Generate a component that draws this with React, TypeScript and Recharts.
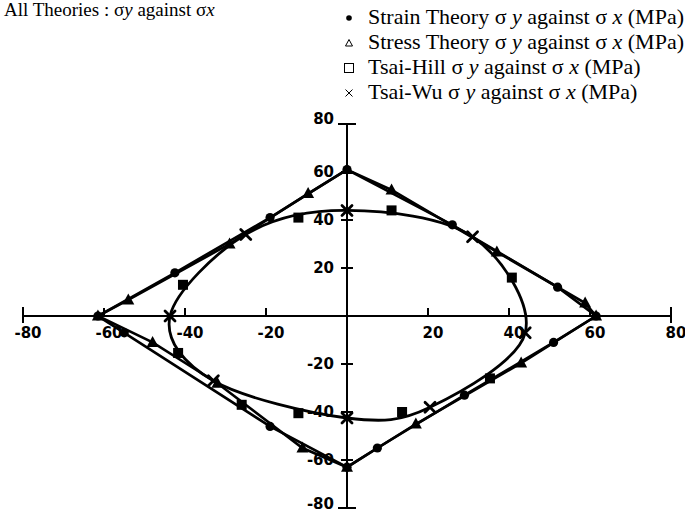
import { ScatterChart, Scatter, XAxis, YAxis, ReferenceLine, Legend } from "recharts";

const W = 685;
const H = 514;
const M = { top: 124, right: 14, bottom: 5, left: 22 };
const AXIS_SIZE = 1;
// pixel position of the origin inside the plot (domain is symmetric)
const ZERO_X = M.left + AXIS_SIZE + (W - M.left - M.right - AXIS_SIZE) / 2;
const ZERO_Y = M.top + (H - M.top - M.bottom - AXIS_SIZE) / 2;

const xTicks = [-80, -60, -40, -20, 20, 40, 60, 80];
const yTicks = [-80, -60, -40, -20, 20, 40, 60, 80];

// σx / σy pairs in MPa, listed clockwise round each envelope
const strainX = [0, 26, 52, 61.5, 51, 29, 7.5, 0, -19, -55, -61.5, -42.5, -19];
const strainY = [61, 38, 12, 0, -11, -33, -55, -63, -46, -7, 0, 18, 41];

const stressX = [0, 11, 37, 58.8, 61.5, 43, 17, 0, -11, -32, -48, -61.5, -54, -29, -9.6];
const stressY = [61, 52.5, 26.7, 5.4, 0, -19.6, -45, -63, -55, -28, -11, 0, 6.7, 30, 51];

const hillX = [11, 40.7, 35.3, 13.6, -12, -26, -41.7, -40.5, -12];
const hillY = [44, 16, -26, -40, -40.5, -37, -15.4, 13, 41];

const wuX = [0, 31, 44, 20.5, 0, -33, -43.7, -25];
const wuY = [44, 33, -7, -38, -42.5, -27, 0, 34];

const pairs = (xs: number[], ys: number[]) => xs.map((x, i) => ({ x, y: ys[i] }));

const strainData = pairs(strainX, strainY);
const stressData = pairs(stressX, stressY);
const hillData = pairs(hillX, hillY);
const wuData = pairs(wuX, wuY);

// closed Catmull-Rom curve through the scatter points
function closedSpline(pts: { x: number; y: number }[]) {
  const n = pts.length;
  let d = `M${pts[0].x},${pts[0].y}`;
  for (let i = 0; i < n; i++) {
    const p0 = pts[(i - 1 + n) % n];
    const p1 = pts[i];
    const p2 = pts[(i + 1) % n];
    const p3 = pts[(i + 2) % n];
    const c1x = p1.x + (p2.x - p0.x) / 6;
    const c1y = p1.y + (p2.y - p0.y) / 6;
    const c2x = p2.x - (p3.x - p1.x) / 6;
    const c2y = p2.y - (p3.y - p1.y) / 6;
    d += ` C${c1x},${c1y} ${c2x},${c2y} ${p2.x},${p2.y}`;
  }
  return d + "Z";
}

const Dot = ({ cx, cy }: any) => <circle cx={cx} cy={cy} r={4.6} fill="#000" />;
const Tri = ({ cx, cy }: any) => (
  <polygon points={`${cx},${cy - 6.5} ${cx - 6},${cy + 4.5} ${cx + 6},${cy + 4.5}`} fill="#000" />
);
const Sq = ({ cx, cy }: any) => <rect x={cx - 5} y={cy - 5} width={10} height={10} fill="#000" />;
const Cross = ({ cx, cy }: any) => (
  <g stroke="#000" strokeWidth={2.8} strokeLinecap="round">
    <line x1={cx - 5} y1={cy - 5} x2={cx + 5} y2={cy + 5} />
    <line x1={cx - 5} y1={cy + 5} x2={cx + 5} y2={cy - 5} />
  </g>
);

const tickFont = { fontFamily: "DejaVu Sans", fontWeight: 700, fontSize: 15 };

const XTick = ({ x, payload }: any) => {
  const v = payload.value;
  const end = Math.abs(v) === 80;
  return (
    <g>
      <line x1={x} x2={x} y1={ZERO_Y - (end ? 9 : 8)} y2={ZERO_Y + (end ? 7 : 0)} stroke="#000" strokeWidth={2} />
      <text x={x + 5} y={ZERO_Y + 22} textAnchor="middle" fill="#000" {...tickFont}>
        {v < 0 ? `-${Math.abs(v)}` : v}
      </text>
    </g>
  );
};

const YTick = ({ y, payload }: any) => {
  const v = payload.value;
  const end = Math.abs(v) === 80;
  const dy = v === 80 ? 0 : v === -80 ? 1 : 5;
  return (
    <g>
      <line x1={ZERO_X - (end ? 9 : 6)} x2={ZERO_X + (end ? 9 : 6)} y1={y} y2={y} stroke="#000" strokeWidth={2} />
      <text x={ZERO_X - 13} y={y + dy} textAnchor="end" fill="#000" {...tickFont}>
        {v < 0 ? `-${Math.abs(v)}` : v}
      </text>
    </g>
  );
};

const serif = "Liberation Serif";

const legendRows = [
  { name: "Strain Theory", mark: "dot" },
  { name: "Stress Theory", mark: "tri" },
  { name: "Tsai-Hill", mark: "sq" },
  { name: "Tsai-Wu", mark: "x" },
];

const LegendBox = () => (
  <svg width={345} height={112}>
    {legendRows.map((r, i) => {
      const cy = 14 + i * 25;
      const mx = 9;
      return (
        <g key={r.name}>
          {r.mark === "dot" && <circle cx={mx} cy={cy} r={2.8} fill="#000" />}
          {r.mark === "tri" && (
            <polygon points={`${mx},${cy - 3.5} ${mx - 3.5},${cy + 3} ${mx + 3.5},${cy + 3}`} fill="none" stroke="#000" strokeWidth={1} />
          )}
          {r.mark === "sq" && <rect x={mx - 4.5} y={cy - 4.5} width={9} height={9} fill="none" stroke="#000" strokeWidth={1} />}
          {r.mark === "x" && (
            <g stroke="#000" strokeWidth={1}>
              <line x1={mx - 3.5} y1={cy - 3.5} x2={mx + 3.5} y2={cy + 3.5} />
              <line x1={mx - 3.5} y1={cy + 3.5} x2={mx + 3.5} y2={cy - 3.5} />
            </g>
          )}
          <text x={28} y={cy + 6} fontFamily={serif} fontSize={22} fill="#000">
            {r.name} σ <tspan fontStyle="italic">y</tspan> against σ <tspan fontStyle="italic">x</tspan> (MPa)
          </text>
        </g>
      );
    })}
  </svg>
);

export default function App() {
  return (
    <div style={{ position: "absolute", left: 0, top: 0, width: W, height: H, background: "#fff" }}>
      <ScatterChart width={W} height={H} margin={M}>
        <XAxis
          type="number"
          dataKey="x"
          domain={[-80, 80]}
          ticks={xTicks}
          interval={0}
          height={AXIS_SIZE}
          axisLine={false}
          tickLine={false}
          tick={(p: any) => <XTick {...p} />}
        />
        <YAxis
          type="number"
          dataKey="y"
          domain={[-80, 80]}
          ticks={yTicks}
          interval={0}
          width={AXIS_SIZE}
          axisLine={false}
          tickLine={false}
          tick={(p: any) => <YTick {...p} />}
        />
        <ReferenceLine y={0} stroke="#000" strokeWidth={2} />
        <ReferenceLine x={0} stroke="#000" strokeWidth={2} />
        <Legend
          layout="horizontal"
          verticalAlign="middle"
          align="center"
          wrapperStyle={{ position: "absolute", top: 4, left: 340, width: 345, height: 112 }}
          content={() => <LegendBox />}
        />
        <Scatter
          name="Strain Theory"
          data={strainData}
          line={{ stroke: "#000", strokeWidth: 2.6 }}
          lineJointType="linearClosed"
          shape={(p: any) => <Dot {...p} />}
          isAnimationActive={false}
        />
        <Scatter
          name="Stress Theory"
          data={stressData}
          line={{ stroke: "#000", strokeWidth: 2.6 }}
          lineJointType="linearClosed"
          shape={(p: any) => <Tri {...p} />}
          isAnimationActive={false}
        />
        <Scatter
          name="Tsai-Hill"
          data={hillData}
          shape={(p: any) => <Sq {...p} />}
          isAnimationActive={false}
        />
        <Scatter
          name="Tsai-Wu"
          data={wuData}
          line={(p: any) => <path d={closedSpline(p.points)} fill="none" stroke="#000" strokeWidth={2.8} />}
          shape={(p: any) => <Cross {...p} />}
          isAnimationActive={false}
        />
        <text x={4} y={16} fontFamily={serif} fontSize={19} fill="#000">
          All Theories : σ<tspan fontStyle="italic">y</tspan> against σ<tspan fontStyle="italic">x</tspan>
        </text>
      </ScatterChart>
    </div>
  );
}
